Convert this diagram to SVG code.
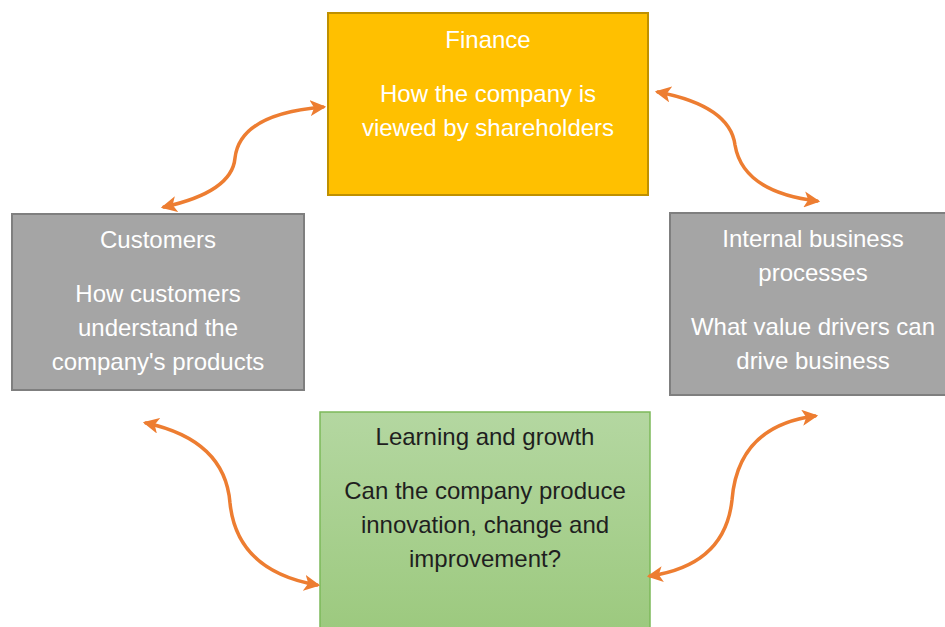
<svg xmlns="http://www.w3.org/2000/svg" width="945" height="627" viewBox="0 0 945 627">
  <style>
    .t { font-family: "Liberation Sans", Arial, sans-serif; font-size: 24px; text-anchor: middle; }
    .light { fill: #ffffff; }
    .dark { fill: #1f1f1f; }
    .link { fill: none; stroke: #ED7D31; stroke-width: 3.5; stroke-linecap: round; marker-start: url(#head); marker-end: url(#head); }
  </style>
  <defs>
    <marker id="head" viewBox="0 0 10 10" refX="8" refY="5" markerWidth="4.6" markerHeight="4.6" orient="auto-start-reverse" markerUnits="strokeWidth">
      <path d="M0,0 L10,5 L0,10 L2.5,5 Z" fill="#ED7D31"/>
    </marker>
    <linearGradient id="greenFill" x1="0" y1="0" x2="0" y2="1">
      <stop offset="0" stop-color="#B4D7A1"/>
      <stop offset="1" stop-color="#9CC97E"/>
    </linearGradient>
  </defs>
  <rect width="945" height="627" fill="#ffffff"/>

  <g id="finance">
    <rect x="328" y="13" width="320" height="182" fill="#FFC000" stroke="#BF9000" stroke-width="2"/>
    <text class="t light" x="488" y="48">Finance</text>
    <text class="t light" x="488" y="102">How the company is</text>
    <text class="t light" x="488" y="136">viewed by shareholders</text>
  </g>

  <g id="customers">
    <rect x="12" y="214" width="292" height="176" fill="#A5A5A5" stroke="#7F7F7F" stroke-width="2"/>
    <text class="t light" x="158" y="248">Customers</text>
    <text class="t light" x="158" y="302">How customers</text>
    <text class="t light" x="158" y="336">understand the</text>
    <text class="t light" x="158" y="370">company's products</text>
  </g>

  <g id="internal">
    <rect x="670" y="213" width="286" height="182" fill="#A5A5A5" stroke="#7F7F7F" stroke-width="2"/>
    <text class="t light" x="813" y="247">Internal business</text>
    <text class="t light" x="813" y="281">processes</text>
    <text class="t light" x="813" y="335">What value drivers can</text>
    <text class="t light" x="813" y="369">drive business</text>
  </g>

  <g id="learning">
    <rect x="320" y="412" width="330" height="222" fill="url(#greenFill)" stroke="#7CB95A" stroke-width="1.5"/>
    <text class="t dark" x="485" y="445">Learning and growth</text>
    <text class="t dark" x="485" y="499">Can the company produce</text>
    <text class="t dark" x="485" y="533">innovation, change and</text>
    <text class="t dark" x="485" y="567">improvement?</text>
  </g>

  <g id="connectors">
    <path class="link" d="M164,207 Q232,192 235,158 Q240,114 323,107"/>
    <path class="link" d="M658,92 Q730,106 735,145 Q743,192 817,201"/>
    <path class="link" d="M146,423 Q225,440 230,503 Q237,571 317,585"/>
    <path class="link" d="M650,576 Q725,565 732,500 Q738,426 815,416"/>
  </g>
</svg>
